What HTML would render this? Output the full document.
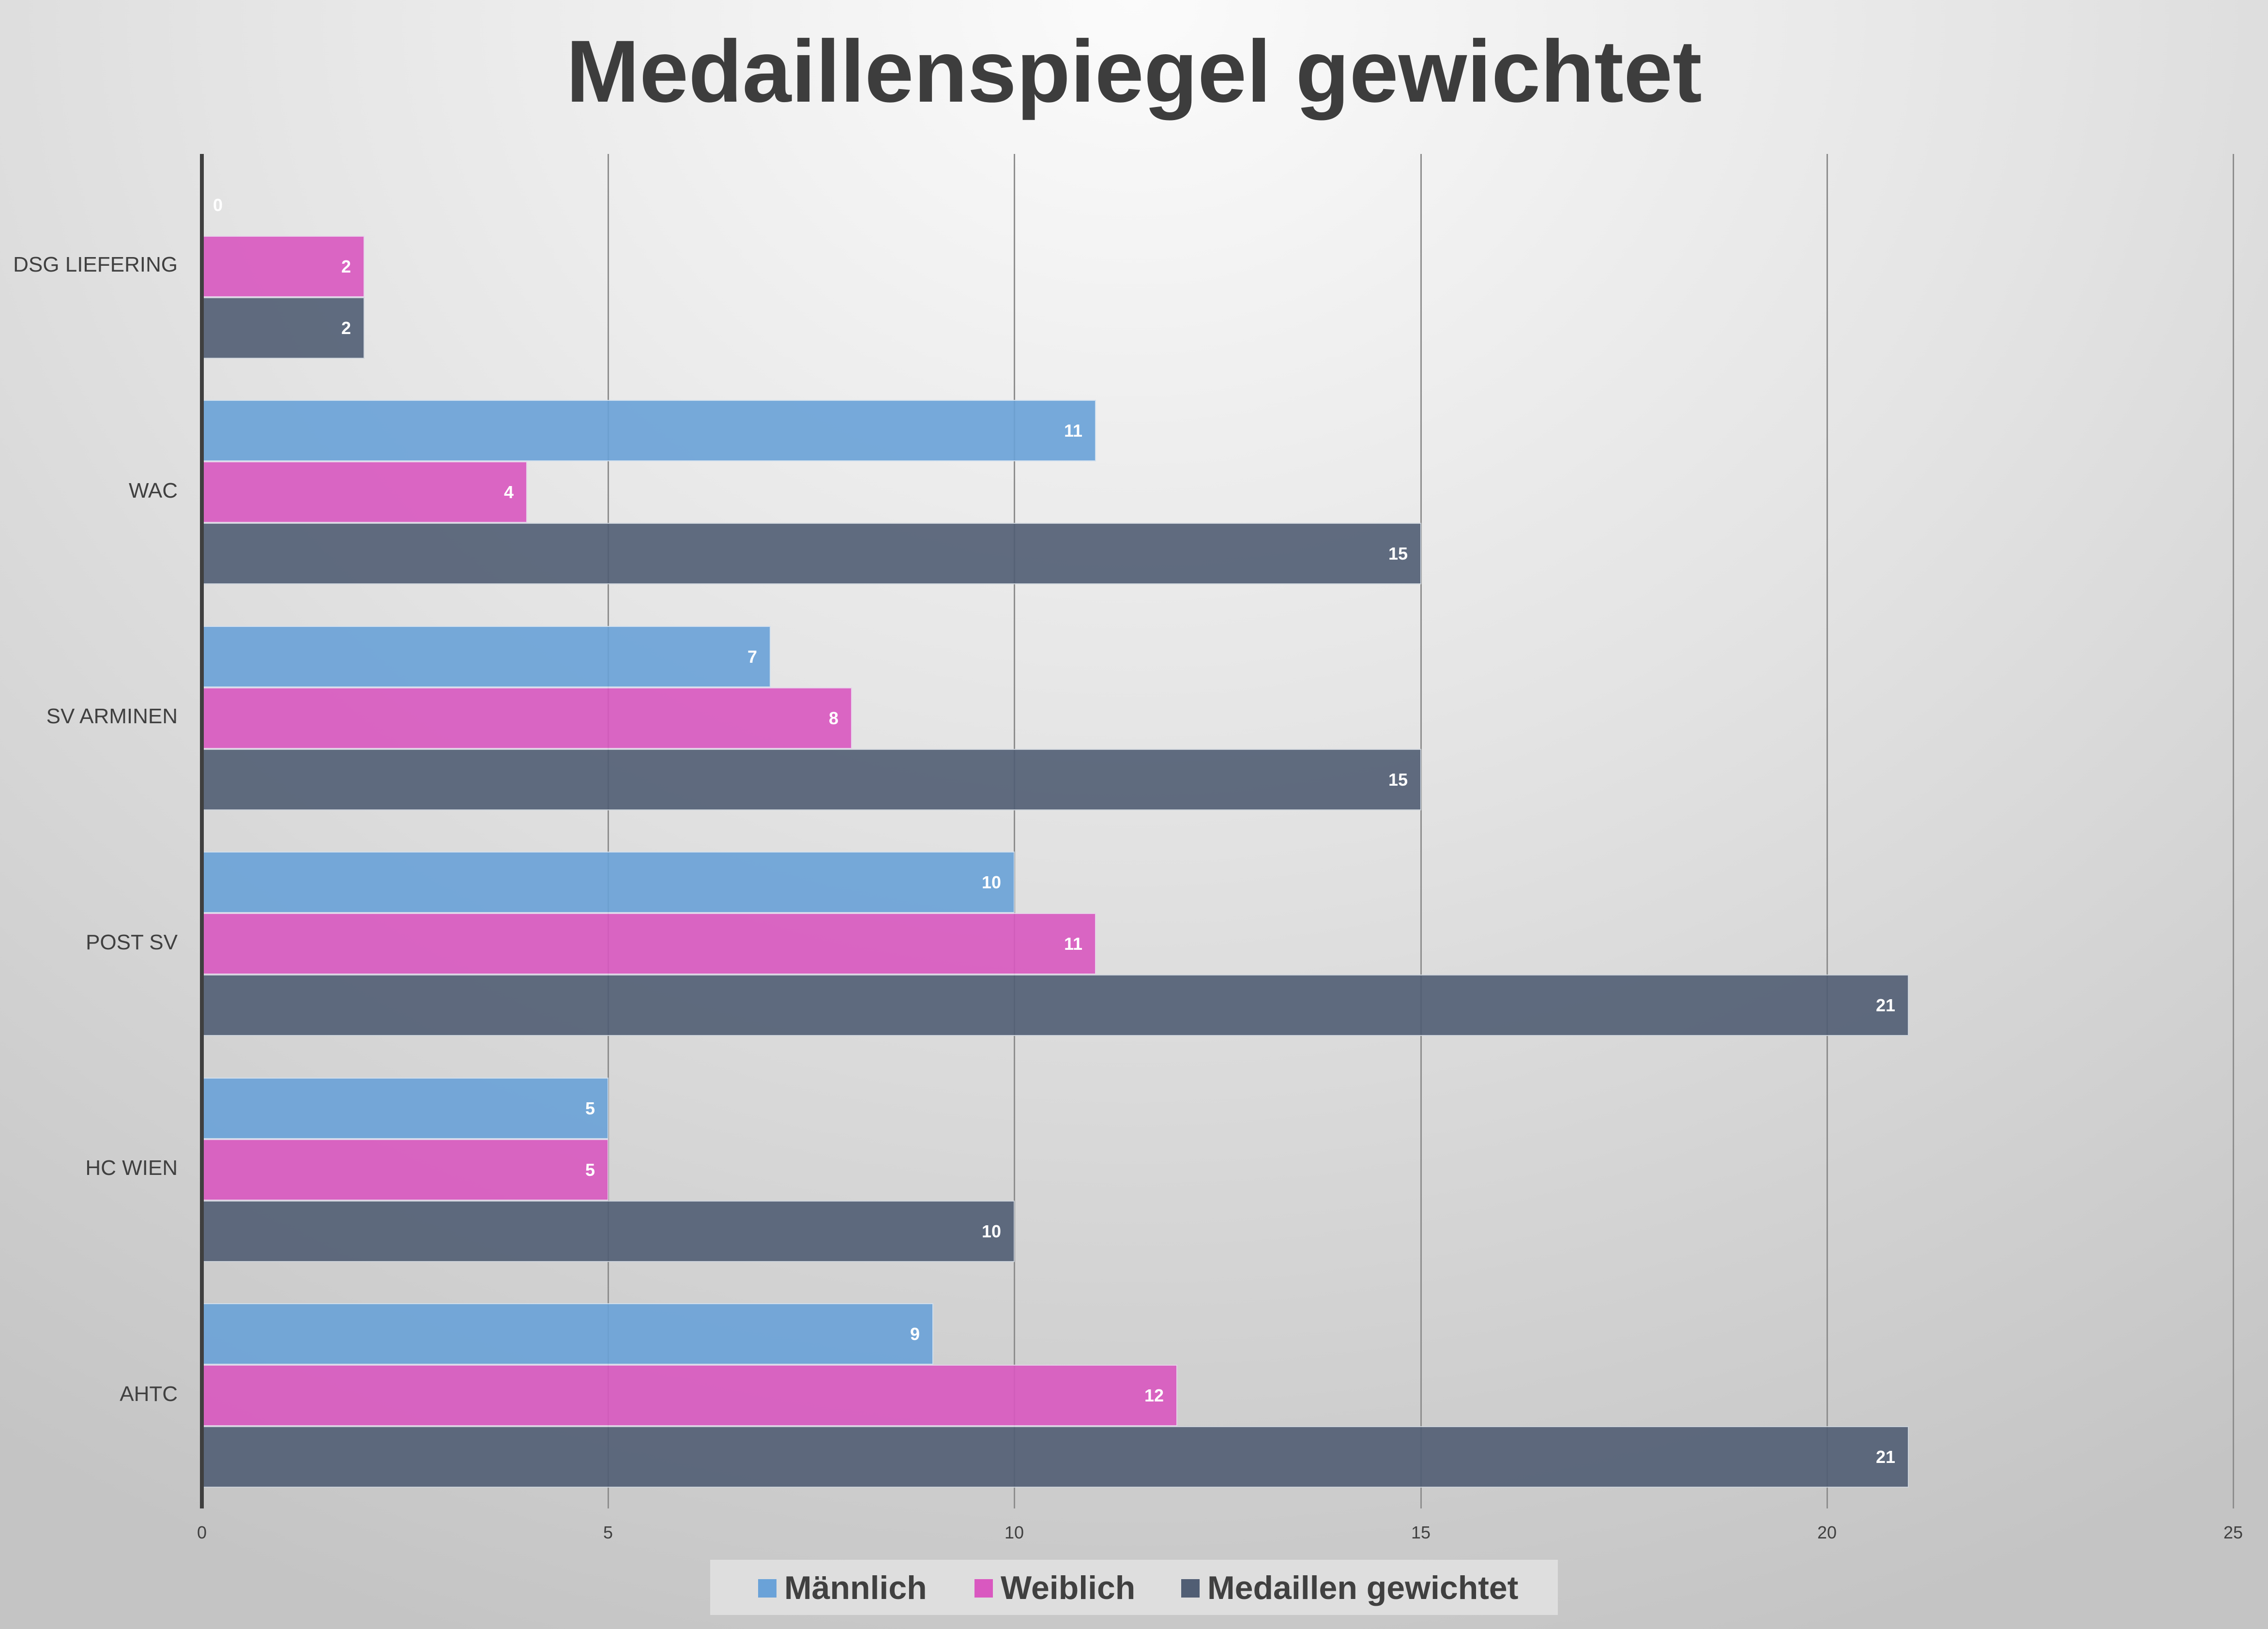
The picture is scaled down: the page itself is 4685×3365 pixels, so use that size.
<!DOCTYPE html>
<html><head><meta charset="utf-8"><style>
*{margin:0;padding:0;box-sizing:border-box}
body{width:4685px;height:3365px;overflow:hidden;position:relative;font-family:"Liberation Sans","DejaVu Sans",sans-serif;
background:radial-gradient(ellipse 4200px 3600px at 50% 0%,#fbfbfb 0%,#e4e4e4 45%,#c4c4c4 100%);}
.a{position:absolute}
.title{left:0;width:4685px;top:52px;text-align:center;font-weight:bold;font-size:182px;color:#3d3d3d;line-height:190px}
.grid{width:3px;background:#8e8e8e;top:318px;height:2798px}
.bar{height:127px;border:2px solid rgba(235,240,245,.8);opacity:.9}
.m{background:#6aa2d8}.w{background:#d958c0}.g{background:#515e74}
.lbl{color:#fff;font-weight:bold;font-size:36px;line-height:127px;text-align:right}
.cat{right:4318px;font-size:44px;color:#404040;white-space:nowrap;text-align:right}
.tick{font-size:36px;color:#404040;width:120px;margin-left:-60px;text-align:center;top:3145px}
.leg{left:1467px;top:3222px;width:1751px;height:114px;background:#dedede}
.li{font-size:68px;font-weight:bold;color:#404040;top:3240px;line-height:80px}
.sw{width:38px;height:38px;top:3262px}
</style></head><body>
<div class="a title">Medaillenspiegel gewichtet</div>
<div class="a grid" style="left:1255px"></div>
<div class="a grid" style="left:2094px"></div>
<div class="a grid" style="left:2934px"></div>
<div class="a grid" style="left:3773px"></div>
<div class="a grid" style="left:4612px"></div>

<div class="a lbl" style="left:440px;top:360px;text-align:left;width:60px">0</div>
<div class="a bar w" style="left:417px;top:487px;width:336px"></div>
<div class="a bar g" style="left:417px;top:614px;width:336px"></div>
<div class="a bar m" style="left:417px;top:826px;width:1847px"></div>
<div class="a bar w" style="left:417px;top:953px;width:672px"></div>
<div class="a bar g" style="left:417px;top:1080px;width:2519px"></div>
<div class="a bar m" style="left:417px;top:1293px;width:1175px"></div>
<div class="a bar w" style="left:417px;top:1420px;width:1343px"></div>
<div class="a bar g" style="left:417px;top:1547px;width:2519px"></div>
<div class="a bar m" style="left:417px;top:1759px;width:1679px"></div>
<div class="a bar w" style="left:417px;top:1886px;width:1847px"></div>
<div class="a bar g" style="left:417px;top:2013px;width:3526px"></div>
<div class="a bar m" style="left:417px;top:2226px;width:840px"></div>
<div class="a bar w" style="left:417px;top:2353px;width:840px"></div>
<div class="a bar g" style="left:417px;top:2480px;width:1679px"></div>
<div class="a bar m" style="left:417px;top:2692px;width:1511px"></div>
<div class="a bar w" style="left:417px;top:2819px;width:2015px"></div>
<div class="a bar g" style="left:417px;top:2946px;width:3526px"></div>

<div class="a lbl" style="left:625px;top:487px;width:100px">2</div>
<div class="a lbl" style="left:625px;top:614px;width:100px">2</div>
<div class="a lbl" style="left:2136px;top:826px;width:100px">11</div>
<div class="a lbl" style="left:961px;top:953px;width:100px">4</div>
<div class="a lbl" style="left:2808px;top:1080px;width:100px">15</div>
<div class="a lbl" style="left:1464px;top:1293px;width:100px">7</div>
<div class="a lbl" style="left:1632px;top:1420px;width:100px">8</div>
<div class="a lbl" style="left:2808px;top:1547px;width:100px">15</div>
<div class="a lbl" style="left:1968px;top:1759px;width:100px">10</div>
<div class="a lbl" style="left:2136px;top:1886px;width:100px">11</div>
<div class="a lbl" style="left:3815px;top:2013px;width:100px">21</div>
<div class="a lbl" style="left:1129px;top:2226px;width:100px">5</div>
<div class="a lbl" style="left:1129px;top:2353px;width:100px">5</div>
<div class="a lbl" style="left:1968px;top:2480px;width:100px">10</div>
<div class="a lbl" style="left:1800px;top:2692px;width:100px">9</div>
<div class="a lbl" style="left:2304px;top:2819px;width:100px">12</div>
<div class="a lbl" style="left:3815px;top:2946px;width:100px">21</div>

<div class="a" style="left:413px;top:318px;width:8px;height:2798px;background:#3f3f3f"></div>

<div class="a cat" style="top:522px">DSG LIEFERING</div>
<div class="a cat" style="top:989px">WAC</div>
<div class="a cat" style="top:1455px">SV ARMINEN</div>
<div class="a cat" style="top:1922px">POST SV</div>
<div class="a cat" style="top:2388px">HC WIEN</div>
<div class="a cat" style="top:2855px">AHTC</div>

<div class="a tick" style="left:417px">0</div>
<div class="a tick" style="left:1256px">5</div>
<div class="a tick" style="left:2095px">10</div>
<div class="a tick" style="left:2935px">15</div>
<div class="a tick" style="left:3774px">20</div>
<div class="a tick" style="left:4613px">25</div>

<div class="a leg"></div>
<div class="a sw m" style="left:1566px"></div>
<div class="a li" style="left:1620px">Männlich</div>
<div class="a sw w" style="left:2013px"></div>
<div class="a li" style="left:2067px">Weiblich</div>
<div class="a sw g" style="left:2440px"></div>
<div class="a li" style="left:2494px">Medaillen gewichtet</div>
</body></html>
